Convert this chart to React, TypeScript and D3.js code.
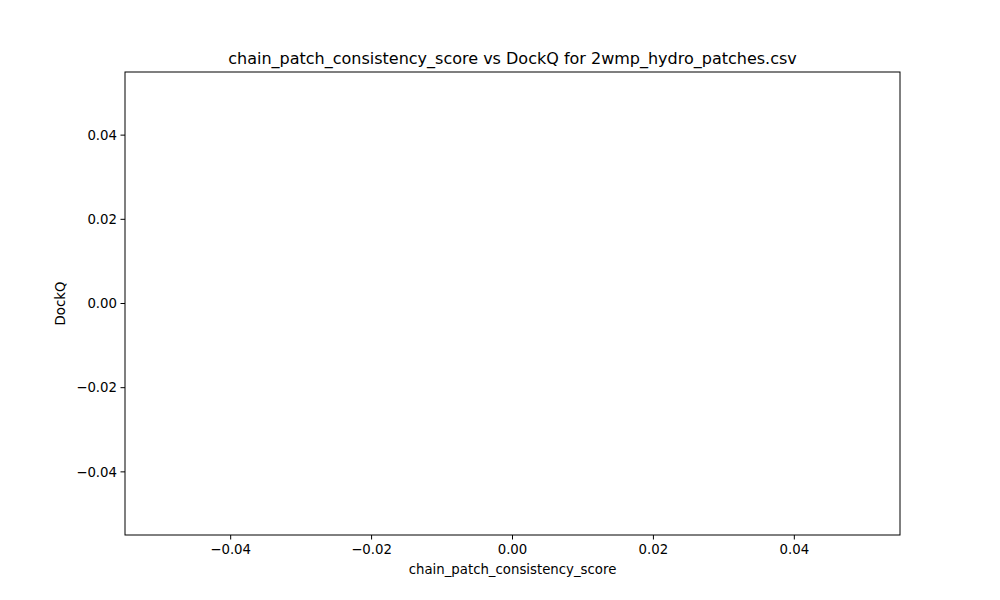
import React, { useEffect } from "react";
import * as d3 from "d3";

const xTicks = [-0.04, -0.02, 0.0, 0.02, 0.04];
const yTicks = [-0.04, -0.02, 0.0, 0.02, 0.04];
const xDomain = [-0.055, 0.055];
const yDomain = [-0.055, 0.055];
const title = "chain_patch_consistency_score vs DockQ for 2wmp_hydro_patches.csv";
const xLabel = "chain_patch_consistency_score";
const yLabel = "DockQ";

const fmt = (v: number) => {
  const s = Math.abs(v).toFixed(2);
  return v < 0 ? "\u2212" + s : s;
};

export default function App() {
  useEffect(() => {
    document.body.style.margin = "0";
  }, []);
  const m = { left: 125, right: 900, top: 72, bottom: 535 };
  const x = d3.scaleLinear().domain(xDomain).range([m.left, m.right]);
  const y = d3.scaleLinear().domain(yDomain).range([m.bottom, m.top]);
  const font = "DejaVu Sans, sans-serif";
  return (
    <svg width={1000} height={600} style={{ display: "block", background: "#fff" }} fontFamily={font}>
      <rect x={m.left} y={m.top} width={m.right - m.left} height={m.bottom - m.top} fill="none" stroke="#000" strokeWidth={1} />
      {xTicks.map((t) => (
        <g key={"x" + t}>
          <line x1={x(t)} x2={x(t)} y1={m.bottom} y2={m.bottom + 4.5} stroke="#000" />
          <text x={x(t)} y={m.bottom + 19} fontSize={13.3} textAnchor="middle">{fmt(t)}</text>
        </g>
      ))}
      {yTicks.map((t) => (
        <g key={"y" + t}>
          <line x1={m.left - 4.5} x2={m.left} y1={y(t)} y2={y(t)} stroke="#000" />
          <text x={m.left - 8} y={y(t)} dy="0.35em" fontSize={13.3} textAnchor="end">{fmt(t)}</text>
        </g>
      ))}
      <text x={(m.left + m.right) / 2} y={574} fontSize={13.3} textAnchor="middle">{xLabel}</text>
      <text transform={`translate(65,${(m.top + m.bottom) / 2}) rotate(-90)`} fontSize={13.3} textAnchor="middle">{yLabel}</text>
      <text x={(m.left + m.right) / 2} y={64} fontSize={16} textAnchor="middle">{title}</text>
    </svg>
  );
}
